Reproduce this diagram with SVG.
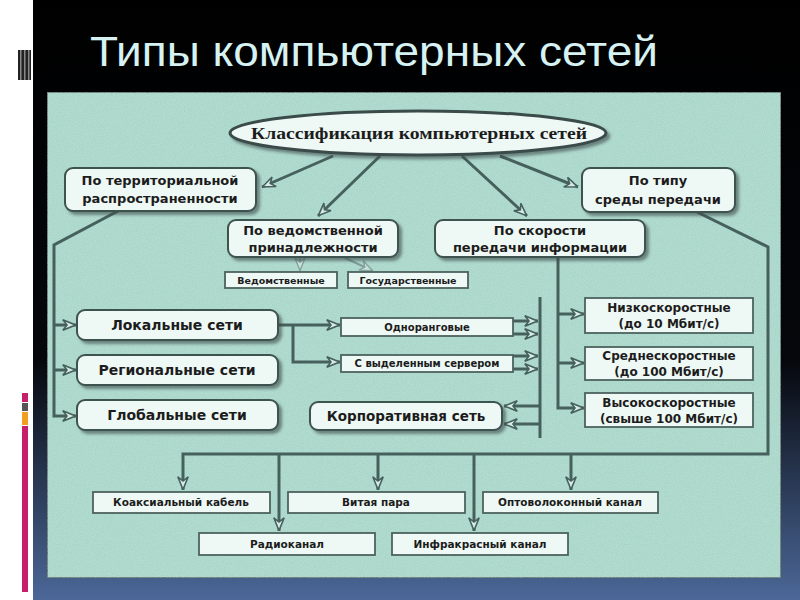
<svg xmlns="http://www.w3.org/2000/svg" width="800" height="600" viewBox="0 0 800 600">
<style>
.box{fill:#eef8f5;stroke:#3e524e;stroke-width:2}
.sbox{fill:#eef8f5;stroke:#4d625e;stroke-width:1.8}
.t{font-family:"DejaVu Sans",Verdana,sans-serif;font-weight:bold;fill:#1c1c1c;text-anchor:middle}
.c{fill:none;stroke:#46615c;stroke-width:3;stroke-linejoin:miter}
.cl{fill:none;stroke:#7f9e97;stroke-width:2}
</style>
<defs>
<linearGradient id="bg" x1="0" y1="0" x2="0" y2="1">
<stop offset="0" stop-color="#000"/>
<stop offset="0.6" stop-color="#05070c"/>
<stop offset="1" stop-color="#4c6898"/>
</linearGradient>
<filter id="sh" x="-10%" y="-20%" width="130%" height="160%">
<feDropShadow dx="3" dy="3" stdDeviation="1.5" flood-color="#3a4a47" flood-opacity="0.6"/>
</filter>
<filter id="tex" x="0" y="0" width="100%" height="100%">
<feTurbulence type="fractalNoise" baseFrequency="0.9" numOctaves="2" seed="3" result="n"/>
<feColorMatrix in="n" type="matrix" values="0 0 0 0 0.9  0 0 0 0 1  0 0 0 0 0.95  0 0 0 0.28 -0.05"/>
<feComposite in2="SourceGraphic" operator="in" result="m"/>
<feMerge><feMergeNode in="SourceGraphic"/><feMergeNode in="m"/></feMerge>
</filter>
<marker id="a" viewBox="0 0 14 12" markerWidth="14" markerHeight="12" refX="14" refY="6" orient="auto" markerUnits="userSpaceOnUse">
<path d="M0.8,0.8 L13.5,6 L0.8,11.2 L5,6 Z" fill="#d6ebe5" stroke="#46615c" stroke-width="1.6" stroke-linejoin="miter"/>
</marker>
<marker id="al" viewBox="0 0 14 12" markerWidth="14" markerHeight="12" refX="14" refY="6" orient="auto" markerUnits="userSpaceOnUse">
<path d="M0.8,0.8 L13.5,6 L0.8,11.2 L5,6 Z" fill="#c9e4dc" stroke="#86a39c" stroke-width="1.4"/>
</marker>
</defs>

<!-- background -->
<rect x="0" y="0" width="800" height="600" fill="url(#bg)"/>
<rect x="0" y="0" width="33" height="600" fill="#ffffff"/>
<g id="leftmarks">
<rect x="18" y="50" width="13" height="30" fill="#222"/>
<rect x="20" y="50" width="1.5" height="30" fill="#888"/>
<rect x="24" y="50" width="1.5" height="30" fill="#888"/>
<rect x="28" y="50" width="1.5" height="30" fill="#888"/>
<rect x="22" y="393" width="6" height="9" fill="#c81f6a"/>
<rect x="22" y="403" width="6" height="8" fill="#555"/>
<rect x="22" y="412" width="6" height="13" fill="#f0a020"/>
<rect x="22" y="426" width="6" height="166" fill="#c81f6a"/>
</g>

<text x="90" y="66" font-family="Liberation Sans, Arial, sans-serif" font-size="42" fill="#d6f2f3" textLength="568" lengthAdjust="spacingAndGlyphs">Типы  компьютерных  сетей</text>

<!-- panel -->
<rect x="47" y="92" width="734" height="486" fill="#a5d5c7" stroke="#5e736f" stroke-width="2" filter="url(#tex)"/>

<!-- connectors -->
<g id="connectors">
<path class="c" d="M333,156 L262,187" marker-end="url(#a)"/>
<path class="c" d="M380,156 L318,216" marker-end="url(#a)"/>
<path class="c" d="M462,156 L527,216" marker-end="url(#a)"/>
<path class="c" d="M500,156 L578,187" marker-end="url(#a)"/>
<path class="cl" d="M300,257 L300,271" marker-end="url(#al)"/>
<path class="cl" d="M343,257 L373,271" marker-end="url(#al)"/>
<path class="c" d="M118,211 L54,245 L54,416 L76,416" marker-end="url(#a)"/>
<path class="c" d="M54,325 L76,325" marker-end="url(#a)"/>
<path class="c" d="M54,370 L76,370" marker-end="url(#a)"/>
<path class="c" d="M278,325 L340,325" marker-end="url(#a)"/>
<path class="c" d="M293,325 L293,362 L340,362" marker-end="url(#a)"/>
<path class="c" d="M540,297 L540,438" stroke-width="3.5"/>
<path class="c" d="M513,321 L538,321" marker-end="url(#a)"/>
<path class="c" d="M513,334 L538,334" marker-end="url(#a)"/>
<path class="c" d="M513,356 L538,356" marker-end="url(#a)"/>
<path class="c" d="M513,369 L538,369" marker-end="url(#a)"/>
<path class="c" d="M540,406 L504,406" marker-end="url(#a)"/>
<path class="c" d="M540,424 L504,424" marker-end="url(#a)"/>
<path class="c" d="M558,257 L558,408 L584,408" marker-end="url(#a)"/>
<path class="c" d="M558,314 L584,314" marker-end="url(#a)"/>
<path class="c" d="M558,363 L584,363" marker-end="url(#a)"/>
<path class="c" d="M697,212 L768,247 L768,454 L183,454 L183,490" marker-end="url(#a)"/>
<path class="c" d="M279,454 L279,531" marker-end="url(#a)"/>
<path class="c" d="M378,454 L378,490" marker-end="url(#a)"/>
<path class="c" d="M474,454 L474,531" marker-end="url(#a)"/>
<path class="c" d="M571,454 L571,490" marker-end="url(#a)"/>
</g>

<!-- nodes -->
<g id="root">
<ellipse cx="418" cy="133" rx="188" ry="22" fill="#eef8f5" stroke="#3a4c49" stroke-width="3" filter="url(#sh)"/>
<text x="419" y="139" font-family="Liberation Serif, serif" font-weight="bold" font-size="17" fill="#1c1c1c" text-anchor="middle" textLength="336" lengthAdjust="spacingAndGlyphs">Классификация компьютерных сетей</text>
</g>
<g id="n-terr">
<rect class="box" x="65" y="168" width="191" height="43" rx="8" filter="url(#sh)"/>
<text class="t" x="160" y="185" font-size="13">По территориальной</text>
<text class="t" x="160" y="203" font-size="13">распространенности</text>
</g>
<g id="n-ved">
<rect class="box" x="228" y="220" width="170" height="37" rx="8" filter="url(#sh)"/>
<text class="t" x="313" y="235" font-size="13">По ведомственной</text>
<text class="t" x="313" y="252" font-size="13">принадлежности</text>
</g>
<g id="n-speed">
<rect class="box" x="435" y="220" width="210" height="37" rx="8" filter="url(#sh)"/>
<text class="t" x="540" y="235" font-size="13">По скорости</text>
<text class="t" x="540" y="252" font-size="13">передачи информации</text>
</g>
<g id="n-medium">
<rect class="box" x="582" y="168" width="153" height="44" rx="8" filter="url(#sh)"/>
<text class="t" x="658" y="185" font-size="13">По типу</text>
<text class="t" x="658" y="204" font-size="13">среды передачи</text>
</g>
<g id="n-vedomstv">
<rect class="sbox" x="225" y="272" width="112" height="16"/>
<text class="t" x="281" y="284" font-size="9.5">Ведомственные</text>
</g>
<g id="n-gos">
<rect class="sbox" x="348" y="272" width="120" height="16"/>
<text class="t" x="408" y="284" font-size="9.5">Государственные</text>
</g>
<g id="n-local">
<rect class="box" x="77" y="310" width="201" height="30" rx="8" filter="url(#sh)"/>
<text class="t" x="177" y="330" font-size="14">Локальные сети</text>
</g>
<g id="n-region">
<rect class="box" x="77" y="355" width="201" height="30" rx="8" filter="url(#sh)"/>
<text class="t" x="177" y="375" font-size="14">Региональные сети</text>
</g>
<g id="n-global">
<rect class="box" x="77" y="400" width="201" height="30" rx="8" filter="url(#sh)"/>
<text class="t" x="177" y="420" font-size="14">Глобальные сети</text>
</g>
<g id="n-peer">
<rect class="sbox" x="341" y="318" width="172" height="18"/>
<text class="t" x="427" y="331" font-size="10">Одноранговые</text>
</g>
<g id="n-server">
<rect class="sbox" x="341" y="355" width="172" height="17"/>
<text class="t" x="427" y="367" font-size="10">С выделенным сервером</text>
</g>
<g id="n-corp">
<rect class="box" x="310" y="402" width="192" height="28" rx="8" filter="url(#sh)"/>
<text class="t" x="406" y="421" font-size="13.5">Корпоративная сеть</text>
</g>
<g id="n-low">
<rect class="sbox" x="585" y="298" width="168" height="35"/>
<text class="t" x="669" y="312" font-size="12">Низкоскоростные</text>
<text class="t" x="669" y="328" font-size="12">(до 10 Мбит/с)</text>
</g>
<g id="n-mid">
<rect class="sbox" x="585" y="347" width="168" height="33"/>
<text class="t" x="669" y="360" font-size="12">Среднескоростные</text>
<text class="t" x="669" y="376" font-size="12">(до 100 Мбит/с)</text>
</g>
<g id="n-high">
<rect class="sbox" x="585" y="393" width="168" height="34"/>
<text class="t" x="669" y="407" font-size="12">Высокоскоростные</text>
<text class="t" x="669" y="423" font-size="12">(свыше 100 Мбит/с)</text>
</g>
<g id="n-coax">
<rect class="sbox" x="93" y="492" width="177" height="21"/>
<text class="t" x="181" y="506" font-size="10.5">Коаксиальный кабель</text>
</g>
<g id="n-twist">
<rect class="sbox" x="288" y="492" width="177" height="21"/>
<text class="t" x="376" y="506" font-size="10.5">Витая пара</text>
</g>
<g id="n-fiber">
<rect class="sbox" x="483" y="492" width="175" height="21"/>
<text class="t" x="570" y="506" font-size="10.5">Оптоволоконный канал</text>
</g>
<g id="n-radio">
<rect class="sbox" x="199" y="533" width="176" height="22"/>
<text class="t" x="287" y="548" font-size="10.5">Радиоканал</text>
</g>
<g id="n-ir">
<rect class="sbox" x="392" y="533" width="176" height="22"/>
<text class="t" x="480" y="548" font-size="10.5">Инфракрасный канал</text>
</g>
</svg>
